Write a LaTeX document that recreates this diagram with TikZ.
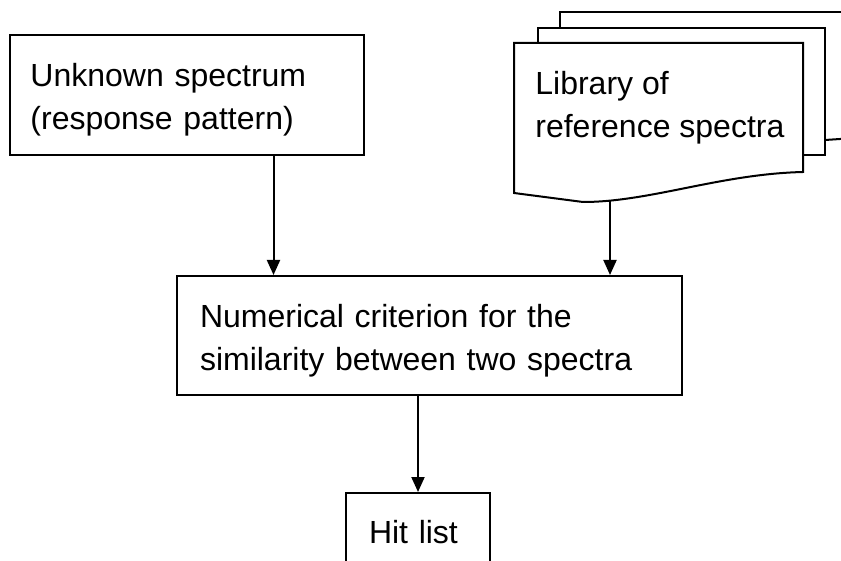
\documentclass[tikz,border=0pt]{standalone}
\usepackage{fontspec}
\setmainfont{Liberation Sans}
\usetikzlibrary{arrows.meta}

\tikzset{
	box/.style={draw=black, line width=1pt, rectangle, align=left, font=\fontsize{16}{21.5}\selectfont, inner ysep=0pt},
	lowered/.style={execute at begin node={\rule{0pt}{16.5pt}}},
	arr/.style={black, line width=1pt, -{Triangle[length=7.5pt,width=6.5pt]}}
}

\begin{document}
\begin{tikzpicture}[x=0.5pt, y=-0.5pt]
	\useasboundingbox (0,0) rectangle (841,561);
	\clip (0,0) rectangle (841,561);
	
	\node[box, lowered, minimum width=177pt, minimum height=60pt, text width=156pt, inner xsep=10.5pt] (unknown) at (186.5,95) {Unknown spectrum\\(response pattern)};
	
	\draw[line width=1pt] (560,28) -- (560,12) -- (870,12);
	\draw[line width=1pt] (825,140) -- (870,137);
	\draw[line width=1pt] (538,43) -- (538,28) -- (825,28) -- (825,155) -- (803,155);
	\draw[line width=1pt, fill=white] (514,193) -- (514,43) -- (803,43) -- (803,172)
		.. controls (720,174) and (650,202) .. (583,202) -- cycle;
	\node[align=left, anchor=west, inner sep=0pt, font=\fontsize{16}{21.5}\selectfont] (library) at (535,108) {Library of\\reference spectra};
	\coordinate (libbot) at (610,201);
	
	\node[box, lowered, minimum width=252.5pt, minimum height=59.5pt, text width=229.5pt, inner xsep=11.5pt] (crit) at (429.5,335.5) {Numerical criterion for the\\similarity between two spectra};
	
	\node[box, minimum width=72pt, minimum height=39pt, text width=49pt, inner xsep=11.5pt, anchor=north] (hit) at (418,492) {Hit list};
	
	\draw[arr] ([xshift=43.5pt]unknown.south) -- ([xshift=43.5pt]unknown.south |- crit.north);
	\draw[arr] (libbot) -- (libbot |- crit.north);
	\draw[arr] (crit.south -| hit.north) -- (hit.north);
	
\end{tikzpicture}
\end{document}
